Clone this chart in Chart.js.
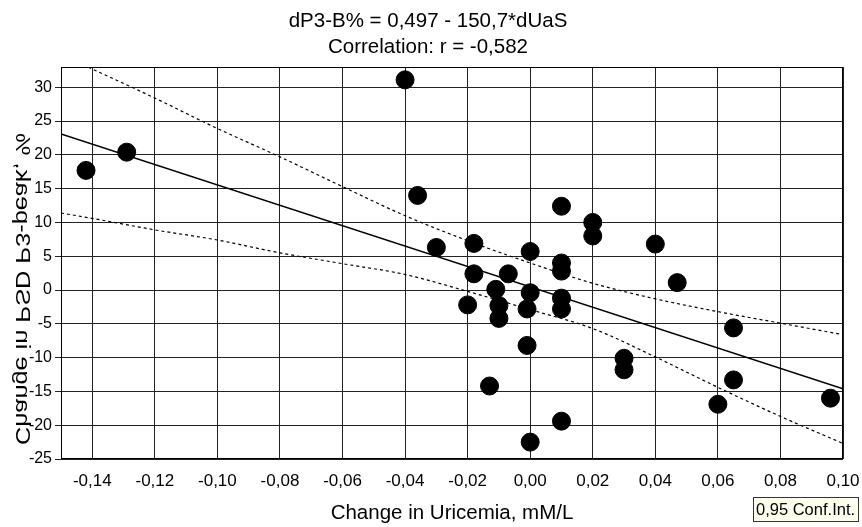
<!DOCTYPE html>
<html>
<head>
<meta charset="utf-8">
<script src="https://cdn.jsdelivr.net/npm/chart.js@4.4.1/dist/chart.umd.min.js"></script>
<style>
  html, body { margin: 0; padding: 0; background: #fff; }
  #scatterChart { display: block; }
</style>
</head>
<body>
<canvas id="scatterChart" width="862" height="527"></canvas>
<script>
// points
const uaChange = [
  -0.142, -0.129, -0.040, -0.036, -0.030, -0.018, -0.018, -0.020, -0.011, -0.010,
  -0.010, -0.007, 0.000, 0.000, -0.001, -0.001, -0.013, 0.000, 0.010, 0.010,
  0.010, 0.010, 0.010, 0.010, 0.020, 0.020, 0.040, 0.047, 0.030, 0.030,
  0.065, 0.065, 0.060, 0.096
];
const p3Change = [
  17.7, 20.4, 31.1, 14.0, 6.3, 6.9, 2.4, -2.2, 0.1, -2.3,
  -4.2, 2.4, 5.7, -0.4, -2.8, -8.2, -14.2, -22.5, 12.4, 4.0,
  2.8, -1.2, -2.8, -19.4, 10.0, 8.0, 6.8, 1.1, -10.1, -11.8,
  -5.6, -13.3, -16.9, -16.0
];

// regression line ends
const fitX = [-0.15, 0.10];
const fitY = [23.1, -14.6];

// 0,95 confidence band
const bandX = [-0.15, -0.14, -0.12, -0.10, -0.08, -0.06, -0.04, -0.02, 0.00, 0.02, 0.04, 0.06, 0.08, 0.10];
const upperY = [34.8, 32.7, 28.4, 23.9, 19.7, 15.3, 11.0, 7.3, 4.0, 1.0, -1.3, -3.2, -4.9, -6.6];
const lowerY = [11.4, 10.6, 8.9, 7.4, 5.5, 3.9, 2.3, -0.2, -2.9, -5.7, -9.9, -14.4, -18.7, -22.7];

const xTicks = [-0.14, -0.12, -0.10, -0.08, -0.06, -0.04, -0.02, 0.00, 0.02, 0.04, 0.06, 0.08, 0.10];
const yTicks = [-25, -20, -15, -10, -5, 0, 5, 10, 15, 20, 25, 30];

const titleLines = ["dP3-B% = 0,497 - 150,7*dUaS", "Correlation: r = -0,582"];
const xTitle = "Change in Uricemia, mM/L";
const yTitle = "Change in PSD P3-peak, %";
const legendText = "0,95 Conf.Int.";

const FONT = '"Liberation Sans", Arial, sans-serif';

function pairs(xs, ys) {
  return xs.map((x, i) => ({ x: x, y: ys[i] }));
}

// titles, mirrored y title, legend box and frame
const extras = {
  id: "extras",
  afterDraw(chart) {
    const ctx = chart.ctx;
    const a = chart.chartArea;
    ctx.save();
    ctx.strokeStyle = "#000";
    ctx.lineWidth = 1;
    ctx.strokeRect(Math.round(a.left) + 0.5, Math.round(a.top) + 0.5,
      Math.round(a.right - a.left) - 1, Math.round(a.bottom - a.top) - 1);

    ctx.fillStyle = "#000";
    ctx.textAlign = "center";
    ctx.textBaseline = "alphabetic";
    ctx.font = "20.5px " + FONT;
    ctx.fillText(titleLines[0], 428, 27);
    ctx.fillText(titleLines[1], 428, 53);

    ctx.fillText(xTitle, 452, 519);

    // y title is drawn mirrored like in the original
    ctx.save();
    ctx.font = "20px " + FONT;
    const w = ctx.measureText(yTitle).width;
    ctx.translate(22, 289);
    ctx.rotate(-Math.PI / 2);
    ctx.scale(312 / w, -1);
    ctx.textBaseline = "middle";
    ctx.fillText(yTitle, 0, 0);
    ctx.restore();

    ctx.fillStyle = "#ffffee";
    ctx.fillRect(753, 497, 105, 24);
    ctx.strokeStyle = "#333";
    ctx.strokeRect(753.5, 497.5, 105, 24);
    ctx.fillStyle = "#000";
    ctx.textAlign = "left";
    ctx.textBaseline = "middle";
    ctx.font = "16.5px " + FONT;
    ctx.fillText(legendText, 756, 510);
    ctx.restore();
  }
};

const ctx = document.getElementById("scatterChart").getContext("2d");
const chart = new Chart(ctx, {
  type: "scatter",
  data: {
    datasets: [
      {
        label: "data",
        data: pairs(uaChange, p3Change),
        backgroundColor: "#000",
        borderColor: "#000",
        pointRadius: 9,
        borderWidth: 1,
      },
      {
        label: "fit",
        data: pairs(fitX, fitY),
        showLine: true,
        pointRadius: 0,
        borderColor: "#000",
        borderWidth: 1.5,
      },
      {
        label: "upper",
        data: pairs(bandX, upperY),
        showLine: true,
        pointRadius: 0,
        borderColor: "#000",
        borderWidth: 1.2,
        borderDash: [3, 3],
        cubicInterpolationMode: "monotone",
      },
      {
        label: "lower",
        data: pairs(bandX, lowerY),
        showLine: true,
        pointRadius: 0,
        borderColor: "#000",
        borderWidth: 1.2,
        borderDash: [3, 3],
        cubicInterpolationMode: "monotone",
      },
    ],
  },
  options: {
    responsive: false,
    animation: false,
    layout: { padding: { top: 67, right: 19, left: 0, bottom: 0 } },
    plugins: {
      legend: { display: false },
      tooltip: { enabled: false },
    },
    scales: {
      x: {
        type: "linear",
        min: -0.15,
        max: 0.10,
        afterBuildTicks: (scale) => {
          scale.ticks = xTicks.map((v) => ({ value: v }));
        },
        afterFit: (scale) => {
          scale.height = 68;
          scale.paddingLeft = 0;
          scale.paddingRight = 0;
        },
        grid: { color: "#222", lineWidth: 1, drawTicks: false },
        border: { display: false },
        ticks: {
          color: "#000",
          padding: 12,
          maxRotation: 0,
          autoSkip: false,
          font: { family: FONT, size: 17 },
          callback: (v) => Number(v).toFixed(2).replace(".", ","),
        },
      },
      y: {
        type: "linear",
        min: -25,
        max: 33,
        afterBuildTicks: (scale) => {
          scale.ticks = yTicks.map((v) => ({ value: v }));
        },
        afterFit: (scale) => {
          scale.width = 61;
          scale.paddingTop = 0;
          scale.paddingBottom = 0;
        },
        grid: { color: "#222", lineWidth: 1, drawTicks: true, tickLength: 6 },
        border: { display: false },
        ticks: {
          color: "#000",
          padding: 3,
          autoSkip: false,
          font: { family: FONT, size: 16 },
          callback: (v) => String(v),
        },
      },
    },
  },
  plugins: [extras],
});
</script>
</body>
</html>
